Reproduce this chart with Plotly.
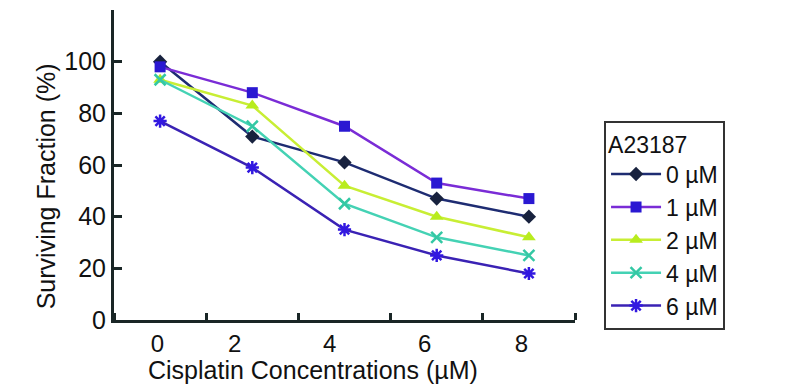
import plotly.graph_objects as go

# Data
CATEGORIES = ["0", "2", "4", "6", "8"]          # Cisplatin concentrations (µM)
SERIES_NAMES = ["0 µM", "1 µM", "2 µM", "4 µM", "6 µM"]  # A23187
VALUES_0 = [100, 71, 61, 47, 40]
VALUES_1 = [98, 88, 75, 53, 47]
VALUES_2 = [93, 83, 52, 40, 32]
VALUES_4 = [93, 75, 45, 32, 25]
VALUES_6 = [77, 59, 35, 25, 18]
Y_TICKS = [0, 20, 40, 60, 80, 100, 120]
Y_TICK_LABELS = ["0", "20", "40", "60", "80", "100", ""]

# Styles
LINE_COLORS = ["#1e2c72", "#7a2cd6", "#c8ee34", "#44d2b4", "#3a22b4"]
MARKER_COLORS = ["#18223e", "#2a18d2", "#b8ec1e", "#34c8a4", "#3218e0"]
SYMBOLS = ["diamond", "square", "triangle-up", "x-thin-open", "asterisk-open"]
SIZES = [11, 11, 12, 11, 11]
# label offsets (in category units) as they appear in the reference
LABEL_POS = [-0.03, 0.81, 1.84, 2.87, 3.92]

FONT = "Liberation Sans, Arial, sans-serif"
AX = "#1a2626"

xs = list(range(len(CATEGORIES)))
series = [VALUES_0, VALUES_1, VALUES_2, VALUES_4, VALUES_6]

fig = go.Figure()
for i, (name, vals) in enumerate(zip(SERIES_NAMES, series)):
    open_sym = SYMBOLS[i].endswith("open")
    fig.add_trace(go.Scatter(
        x=xs, y=vals, name=name, mode="lines+markers",
        legendgroup=name,
        line=dict(color=LINE_COLORS[i], width=2.5),
        marker=dict(symbol=SYMBOLS[i], size=SIZES[i], color=MARKER_COLORS[i],
                    line=dict(color=MARKER_COLORS[i], width=2.5 if open_sym else 0)),
    ))

# the page body adds an 8px offset, so the figure is 8px smaller
fig.update_layout(
    width=786, height=380,
    margin=dict(l=106, r=219, t=2, b=68),
    paper_bgcolor="white", plot_bgcolor="white",
    font=dict(family=FONT, size=25, color="#111"),
    showlegend=True,
    legend=dict(
        title=dict(text="A23187", font=dict(size=23)),
        x=1.063, y=0.643, xanchor="left", yanchor="top",
        bordercolor="#333", borderwidth=2, bgcolor="white",
        font=dict(size=23), tracegroupgap=0, itemwidth=50,
    ),
    xaxis=dict(
        range=[-0.5, 4.5], showgrid=False, zeroline=False, automargin=False,
        showline=True, linecolor=AX, linewidth=3,
        tickmode="array", tickvals=LABEL_POS, ticktext=CATEGORIES,
        ticks="", tickfont=dict(size=24),
        minor=dict(ticks="inside", tickmode="linear", tick0=0.5, dtick=1,
                   ticklen=7, tickwidth=3, tickcolor=AX),
    ),
    yaxis=dict(
        range=[0, 120], showgrid=False, zeroline=False, automargin=False,
        showline=True, linecolor=AX, linewidth=3,
        tickmode="array", tickvals=Y_TICKS, ticktext=Y_TICK_LABELS,
        ticks="inside", ticklen=8, tickwidth=3, tickcolor=AX,
        tickfont=dict(size=25),
    ),
    annotations=[
        dict(text="Cisplatin Concentrations (µM)", xref="paper", yref="paper",
             x=0.432, y=-0.16, xanchor="center", yanchor="middle",
             showarrow=False, font=dict(size=25)),
        dict(text="Surviving Fraction (%)", xref="paper", yref="paper",
             x=-0.147, y=0.432, xanchor="center", yanchor="middle",
             textangle=-90, showarrow=False, font=dict(size=25)),
    ],
)

fig.write_html("out.html")
